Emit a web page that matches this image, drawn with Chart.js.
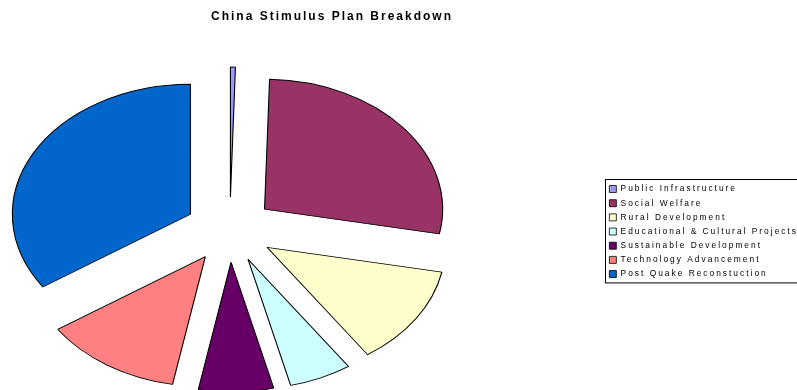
<!DOCTYPE html>
<html>
<head>
<meta charset="utf-8">
<script src="https://cdn.jsdelivr.net/npm/chart.js@4/dist/chart.umd.min.js"></script>
<style>
  html, body { margin: 0; padding: 0; background: #fff; overflow: hidden; }
  #wrap { position: relative; width: 797px; height: 390px; overflow: hidden; }
  /* canvas is wider than the page so the legend runs off the right edge */
  #pie { position: absolute; left: -144px; top: 0; }
</style>
</head>
<body>
<div id="wrap"><canvas id="pie" width="952" height="390"></canvas></div>
<script>
const categories = [
  'Public Infrastructure',
  'Social Welfare',
  'Rural Development',
  'Educational & Cultural Projects',
  'Sustainable Development',
  'Technology Advancement',
  'Post Quake Reconstuction'
];
const shares = [0.45, 27.6, 12.4, 5.7, 6.8, 12.6, 34.45];
const sliceColors = ['#9999FF', '#993366', '#FFFFCC', '#CCFFFF', '#660066', '#FF8080', '#0066CC'];

const EXPLODE = 32.5;      // distance each slice is pulled out
const STRETCH = 1.37;      // horizontal squash of the tilted pie
const FONT = "'Liberation Sans', Arial, sans-serif";

// wide tracking on all text
const spacedText = {
  id: 'spacedText',
  beforeUpdate(chart) { chart.ctx.letterSpacing = '2px'; },
  beforeDraw(chart) { chart.ctx.letterSpacing = '2px'; }
};

// pull every slice outward along its bisector
const explode = {
  id: 'explode',
  afterDatasetUpdate(chart, args) {
    args.meta.data.forEach(arc => {
      const mid = (arc.startAngle + arc.endAngle) / 2;
      arc.x += Math.cos(mid) * EXPLODE;
      arc.y += Math.sin(mid) * EXPLODE;
    });
  }
};

// draw the pie as an ellipse
const ellipse = {
  id: 'ellipse',
  beforeDatasetsDraw(chart) {
    const { ctx, chartArea } = chart;
    const cx = (chartArea.left + chartArea.right) / 2;
    ctx.save();
    ctx.translate(cx, 0);
    ctx.scale(STRETCH, 1);
    ctx.translate(-cx, 0);
  },
  afterDatasetsDraw(chart) {
    chart.ctx.restore();
  }
};

// frame around the legend items
const legendFrame = {
  id: 'legendFrame',
  afterDraw(chart) {
    const lg = chart.legend;
    if (!lg || !lg.legendHitBoxes.length) return;
    const boxes = lg.legendHitBoxes;
    const first = boxes[0], last = boxes[boxes.length - 1];
    const ctx = chart.ctx;
    ctx.save();
    ctx.strokeStyle = '#000';
    ctx.lineWidth = 1;
    ctx.strokeRect(Math.round(first.left) - 3.5, Math.round(first.top) - 5.5,
      lg.right - first.left + 2, last.top + last.height - first.top + 10);
    ctx.restore();
  }
};

new Chart(document.getElementById('pie'), {
  type: 'pie',
  data: {
    labels: categories,
    datasets: [{
      data: shares,
      backgroundColor: sliceColors,
      borderColor: '#000',
      borderWidth: 0.8,
      clip: false
    }]
  },
  options: {
    responsive: false,
    devicePixelRatio: 1,
    animation: false,
    events: [],
    radius: 130,
    layout: { padding: 0 },
    plugins: {
      tooltip: { enabled: false },
      title: {
        display: true,
        text: 'China Stimulus Plan Breakdown',
        color: '#000',
        font: { family: FONT, size: 12, weight: 'bold' },
        padding: { top: 9.3, bottom: 45.3 }
      },
      legend: {
        position: 'right',
        fullSize: false,
        align: 'center',
        // empty legend title, only used as a small spacer above the items
        title: { display: true, text: '', font: { size: 3.4 }, padding: 0 },
        labels: {
          color: '#000',
          font: { family: FONT, size: 8.4 },
          boxWidth: 7,
          boxHeight: 7,
          padding: 5.77
        }
      }
    }
  },
  plugins: [spacedText, explode, ellipse, legendFrame]
});
</script>
</body>
</html>
